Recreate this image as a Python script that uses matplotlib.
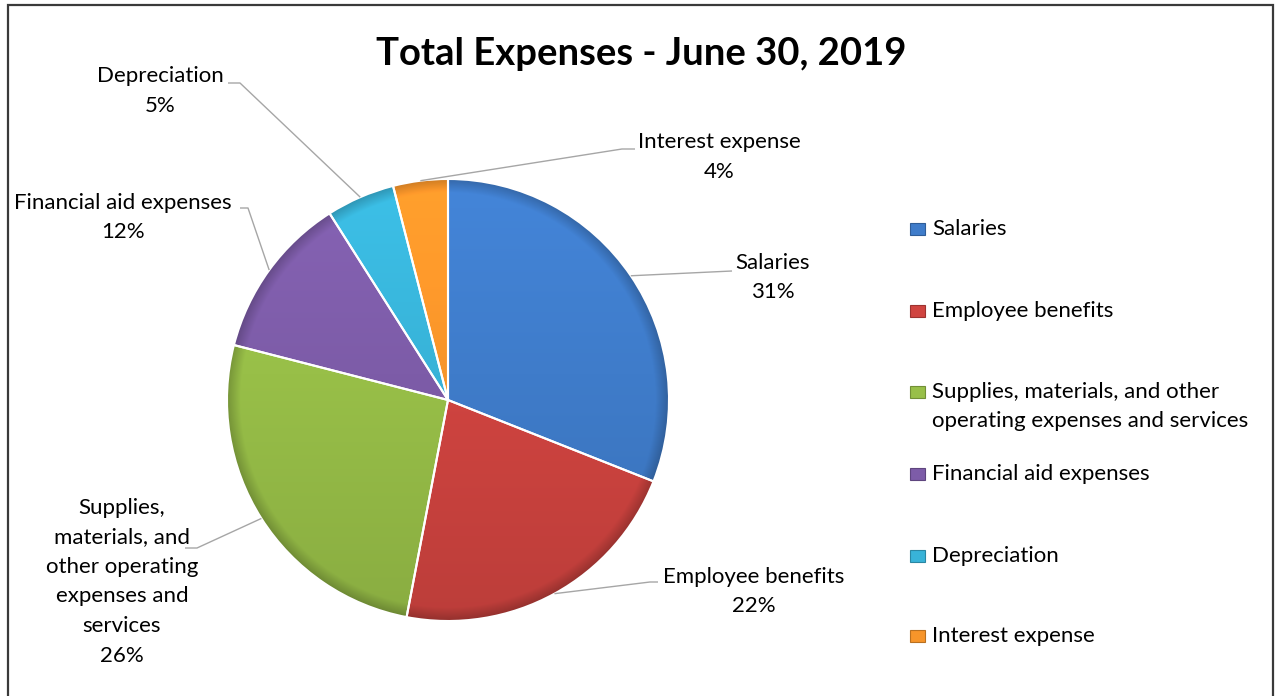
import numpy as np
import matplotlib
matplotlib.use('Agg')
import matplotlib.pyplot as plt
from matplotlib.patches import Rectangle, PathPatch
import matplotlib.colors as mcolors

plt.rcParams['font.family'] = ['Lato', 'DejaVu Sans']

categories = ['Salaries', 'Employee benefits',
              'Supplies, materials, and other operating expenses and services',
              'Financial aid expenses', 'Depreciation', 'Interest expense']
values = [31, 22, 26, 12, 5, 4]
colors = ['#3f7cca', '#d04440', '#98bf48', '#7d5ca8', '#38b3d8', '#f7952a']

# label texts next to the slices
slice_labels = ['Salaries', 'Employee benefits',
                'Supplies,\nmaterials, and\nother operating\nexpenses and\nservices',
                'Financial aid expenses', 'Depreciation', 'Interest expense']
legend_labels = ['Salaries', 'Employee benefits',
                 'Supplies, materials, and other\noperating expenses and services',
                 'Financial aid expenses', 'Depreciation', 'Interest expense']

W, H = 1275, 696

fig = plt.figure(figsize=(W / 100, H / 100), dpi=100)
ax = fig.add_axes([0, 0, 1, 1])

cx, cy, R = 448, H - 400, 221
wedges, _ = ax.pie(values, colors=colors, startangle=90, counterclock=False,
                   center=(cx, cy), radius=R, explode=[0.016] * len(values),
                   wedgeprops=dict(linewidth=0))
ax.set_xlim(0, W)
ax.set_ylim(0, H)
ax.set_aspect('auto')
ax.axis('off')

# shading on every wedge (lighter top, darker bottom and rim)
ext = R + 12
xs = np.linspace(cx - ext, cx + ext, 500)
ys = np.linspace(cy + ext, cy - ext, 500)
gx, gy = np.meshgrid(xs, ys)
t = (cy + ext - gy) / (2 * ext)
for w, c in zip(wedges, colors):
    ox, oy = w.center
    rr = np.hypot(gx - ox, gy - oy) / R
    rim = np.clip((rr - 0.94) / 0.06, 0, 1)
    fac = (1.08 - 0.18 * t) * (1 - 0.22 * rim)
    base = np.array(mcolors.to_rgb(c))
    img = np.clip(base[None, None, :] * fac[:, :, None], 0, 1)
    im = ax.imshow(img, extent=(cx - ext, cx + ext, cy - ext, cy + ext),
                   origin='upper', zorder=2, interpolation='bilinear')
    im.set_clip_path(w)
    ax.add_patch(PathPatch(w.get_path(), transform=w.get_transform(),
                           fill=False, edgecolor='white', lw=1.5, zorder=3))
ax.set_xlim(0, W)
ax.set_ylim(0, H)

# slice labels: text centre x, first line y (pixels from top), leader points
lab_x = [773, 754, 122, 123, 160, 719]
lab_y = [263, 577, 508, 203, 76, 142]
leader_pts = [[(732, 271)],
              [(650, 582), (658, 582)],
              [(197, 548), (185, 548)],
              [(248, 208), (240, 208)],
              [(240, 83), (228, 83)],
              [(622, 149), (635, 149)]]
line_h = 29.5
fs = 16

for w, v, txt, lx, ly, pts in zip(wedges, values, slice_labels, lab_x, lab_y, leader_pts):
    mid = np.deg2rad((w.theta1 + w.theta2) / 2)
    ox, oy = w.center
    ax_pt = (ox + w.r * np.cos(mid), oy + w.r * np.sin(mid))
    px = [ax_pt[0]] + [p[0] for p in pts]
    py = [ax_pt[1]] + [H - p[1] for p in pts]
    ax.plot(px, py, color='#a6a6a6', lw=1, zorder=4, solid_capstyle='butt')
    lines = txt.split('\n') + ['%d%%' % v]
    for i, ln in enumerate(lines):
        ax.text(lx, H - (ly + i * line_h), ln, ha='center', va='center',
                fontsize=fs, color='black', zorder=5)

# legend on the right
leg_y = [229, 311, 392, 474, 556, 636]
for c, txt, y in zip(colors, legend_labels, leg_y):
    ax.add_patch(Rectangle((910, H - y - 6), 15, 12, facecolor=c,
                           edgecolor=mcolors.to_hex(np.array(mcolors.to_rgb(c)) * 0.75),
                           lw=0.8, zorder=5))
    for i, ln in enumerate(txt.split('\n')):
        ax.text(932, H - (y + i * 29), ln, ha='left', va='center',
                fontsize=fs, color='black', zorder=5)

ax.text(641, H - 54, 'Total Expenses - June 30, 2019', ha='center', va='center',
        fontsize=27.5, fontweight='bold', color='black')

# chart frame
ax.add_patch(Rectangle((8, -10), 1265, H - 5 + 10, fill=False,
                       edgecolor='#3a3a3a', lw=1.6, clip_on=False, zorder=6))

fig.savefig('out.png', dpi=100)
